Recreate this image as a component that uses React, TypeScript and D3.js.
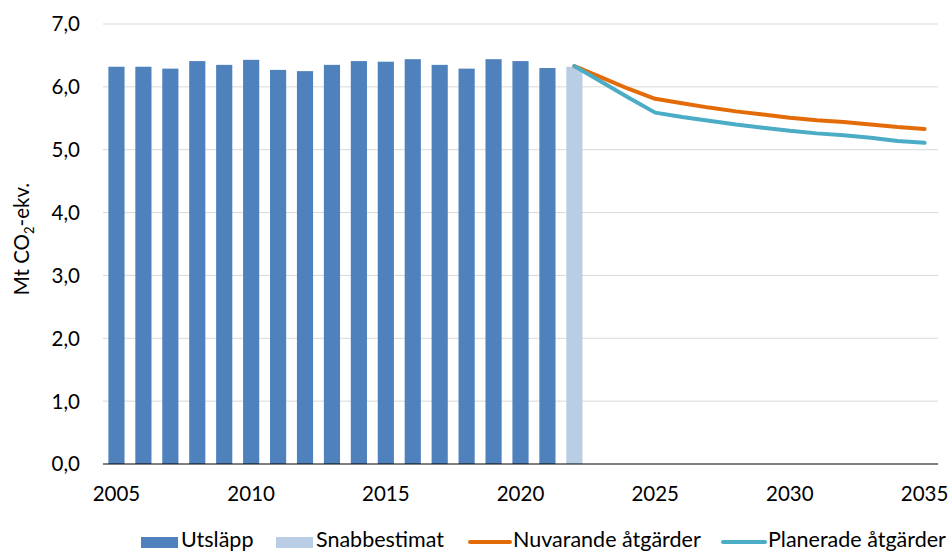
import { useMemo } from "react";
import * as d3 from "d3";

const WIDTH = 952;
const HEIGHT = 551;
const PLOT = { left: 103, right: 938, top: 24, bottom: 464 };
const FONT = "Lato, 'Open Sans', sans-serif";

const years = d3.range(2005, 2036).map(String);
const tickYears = ["2005", "2010", "2015", "2020", "2025", "2030", "2035"];
const yTicks = [0, 1, 2, 3, 4, 5, 6, 7];

// historic emissions 2005-2021
const emissionYears = d3.range(2005, 2022).map(String);
const emissions = [
  6.32, 6.32, 6.29, 6.41, 6.35, 6.43, 6.27, 6.25, 6.35, 6.41, 6.4, 6.44, 6.35,
  6.29, 6.44, 6.41, 6.3,
];

// quick estimate 2022
const estimateYears = ["2022"];
const estimate = [6.32];

// projections 2022-2035
const projYears = d3.range(2022, 2036).map(String);
const nuvarande = [
  6.33, 6.15, 5.97, 5.81, 5.74, 5.67, 5.61, 5.56, 5.51, 5.47, 5.44, 5.4, 5.36,
  5.33,
];
const planerade = [
  6.33, 6.08, 5.83, 5.59, 5.52, 5.46, 5.4, 5.35, 5.3, 5.26, 5.23, 5.19, 5.14,
  5.11,
];

const COLORS = {
  bar: "#4F81BD",
  estimate: "#B9CDE5",
  nuvarande: "#E36C09",
  planerade: "#4BACC6",
  grid: "#D9D9D9",
};

const fmt = (v: number) => v.toFixed(1).replace(".", ",");

export default function App() {
  const x = useMemo(
    () =>
      d3
        .scaleBand<string>()
        .domain(years)
        .range([PLOT.left, PLOT.right])
        .paddingInner(0.4)
        .paddingOuter(0.2),
    []
  );
  const y = useMemo(
    () => d3.scaleLinear().domain([0, 7]).range([PLOT.bottom, PLOT.top]),
    []
  );

  const cx = (yr: string) => (x(yr) ?? 0) + x.bandwidth() / 2;

  const line = d3
    .line<number>()
    .x((_, i) => cx(projYears[i]))
    .y((d) => y(d));

  const legend = [
    { label: "Utsläpp", type: "box", color: COLORS.bar, x: 141, w: 37 },
    { label: "Snabbestimat", type: "box", color: COLORS.estimate, x: 276, w: 37 },
    { label: "Nuvarande åtgärder", type: "line", color: COLORS.nuvarande, x: 470, w: 40 },
    { label: "Planerade åtgärder", type: "line", color: COLORS.planerade, x: 723, w: 42 },
  ];

  return (
    <svg
      width={WIDTH}
      height={HEIGHT}
      style={{ position: "absolute", left: 0, top: 0, background: "#fff" }}
      fontFamily={FONT}
    >
      {/* gridlines */}
      {yTicks.slice(1).map((t) => (
        <line
          key={t}
          x1={PLOT.left}
          x2={PLOT.right}
          y1={y(t)}
          y2={y(t)}
          stroke={COLORS.grid}
          strokeWidth={1}
        />
      ))}

      {/* y tick labels */}
      {yTicks.map((t) => (
        <text
          key={t}
          x={80}
          y={y(t)}
          dy="0.36em"
          textAnchor="end"
          fontSize={20.5}
          fill="#000"
        >
          {fmt(t)}
        </text>
      ))}

      {/* bars */}
      {emissions.map((v, i) => (
        <rect
          key={emissionYears[i]}
          x={x(emissionYears[i])}
          y={y(v)}
          width={x.bandwidth()}
          height={y(0) - y(v)}
          fill={COLORS.bar}
        />
      ))}
      {estimate.map((v, i) => (
        <rect
          key={estimateYears[i]}
          x={x(estimateYears[i])}
          y={y(v)}
          width={x.bandwidth()}
          height={y(0) - y(v)}
          fill={COLORS.estimate}
        />
      ))}

      {/* zero axis */}
      <line
        x1={PLOT.left}
        x2={PLOT.right}
        y1={y(0)}
        y2={y(0)}
        stroke="#000"
        strokeWidth={1.2}
      />

      {/* projection lines */}
      <path
        d={line(nuvarande) ?? ""}
        fill="none"
        stroke={COLORS.nuvarande}
        strokeWidth={4}
        strokeLinejoin="round"
        strokeLinecap="round"
      />
      <path
        d={line(planerade) ?? ""}
        fill="none"
        stroke={COLORS.planerade}
        strokeWidth={4}
        strokeLinejoin="round"
        strokeLinecap="round"
      />

      {/* x tick labels */}
      {tickYears.map((yr) => (
        <text
          key={yr}
          x={cx(yr)}
          y={501}
          textAnchor="middle"
          fontSize={20.5}
          fill="#000"
        >
          {yr}
        </text>
      ))}

      {/* y axis title */}
      <text
        transform="translate(29,239) rotate(-90)"
        textAnchor="middle"
        fontSize={20.5}
        fill="#000"
      >
        Mt CO
        <tspan fontSize={13} dy={5}>
          2
        </tspan>
        <tspan dy={-5}>-ekv.</tspan>
      </text>

      {/* legend */}
      {legend.map((d) => (
        <g key={d.label}>
          {d.type === "box" ? (
            <rect x={d.x} y={537} width={d.w} height={11} fill={d.color} />
          ) : (
            <line
              x1={d.x}
              x2={d.x + d.w}
              y1={542}
              y2={542}
              stroke={d.color}
              strokeWidth={4}
              strokeLinecap="round"
            />
          )}
          <text x={d.x + d.w + 3} y={547} fontSize={21.5} fill="#000">
            {d.label}
          </text>
        </g>
      ))}
    </svg>
  );
}
